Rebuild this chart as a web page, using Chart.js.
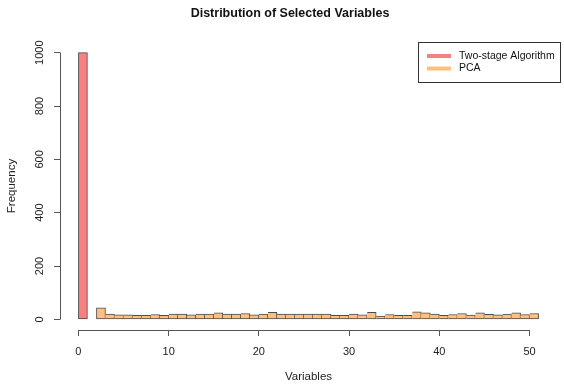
<!DOCTYPE html>
<html>
<head>
<meta charset="utf-8">
<title>Distribution of Selected Variables</title>
<script src="https://cdn.jsdelivr.net/npm/chart.js@4/dist/chart.umd.min.js"></script>
<style>
  html, body { margin: 0; padding: 0; background: #fff; }
  #wrap { width: 564px; height: 385px; position: relative; }
</style>
</head>
<body>
<div id="wrap"><canvas id="chart"></canvas></div>
<script>
// 数据：每个区间的左端点与频数
const twoStageBins = [0];
const twoStageFreq = [1000];
const pcaBins = [2, 3, 4, 5, 6, 7, 8, 9, 10, 11, 12, 13, 14, 15, 16, 17, 18, 19, 20, 21,
  22, 23, 24, 25, 26, 27, 28, 29, 30, 31, 32, 33, 34, 35, 36, 37, 38, 39, 40, 41,
  42, 43, 44, 45, 46, 47, 48, 49, 50];
const pcaFreq = [43, 20, 17, 17, 15, 15, 18, 15, 20, 20, 17, 20, 20, 24, 20, 20, 22, 17, 20, 26,
  20, 20, 20, 20, 20, 20, 15, 15, 20, 17, 26, 12, 18, 15, 15, 28, 24, 20, 15, 18,
  22, 16, 24, 19, 17, 20, 24, 18, 22];
const xTicks = [0, 10, 20, 30, 40, 50];
const yTicks = [0, 200, 400, 600, 800, 1000];
const seriesNames = ['Two-stage Algorithm', 'PCA'];

const RED = '#F98080';
const ORANGE = '#FFC07F';
const FONT = '"Liberation Sans", Arial, Helvetica, sans-serif';

// 区间 -> 柱子中心点
function toPoints(bins, freq) {
  return bins.map((b, i) => ({ x: b + 0.5, y: freq[i] }));
}

// R 风格：只画到首尾刻度的坐标轴线、标题和图例
const rStyle = {
  id: 'rStyle',
  afterDraw(chart) {
    const { ctx, chartArea, scales: { x, y } } = chart;
    ctx.save();
    ctx.strokeStyle = '#555';
    ctx.lineWidth = 1;
    ctx.beginPath();
    const by = Math.floor(chartArea.bottom) + 0.5;
    ctx.moveTo(Math.floor(x.getPixelForValue(xTicks[0])) + 0.5, by);
    ctx.lineTo(Math.floor(x.getPixelForValue(xTicks[xTicks.length - 1])) + 0.5, by);
    const lx = Math.floor(chartArea.left) + 0.5;
    ctx.moveTo(lx, Math.floor(y.getPixelForValue(yTicks[0])) + 0.5);
    ctx.lineTo(lx, Math.floor(y.getPixelForValue(yTicks[yTicks.length - 1])) + 0.5);
    ctx.stroke();

    // 标题
    ctx.fillStyle = '#111';
    ctx.font = 'bold 12.5px ' + FONT;
    ctx.textAlign = 'center';
    ctx.textBaseline = 'middle';
    ctx.fillText('Distribution of Selected Variables', 290, 14);

    // 图例
    const boxL = 418.5, boxT = Math.floor(chartArea.top) + 0.5;
    const boxR = 560.5, boxB = 82.5;
    ctx.strokeStyle = '#333';
    ctx.strokeRect(boxL, boxT, boxR - boxL, boxB - boxT);
    const colors = [RED, ORANGE];
    const rows = [56, 68.5];
    ctx.font = '10.5px ' + FONT;
    ctx.textAlign = 'left';
    seriesNames.forEach((name, i) => {
      ctx.strokeStyle = colors[i];
      ctx.lineWidth = 4;
      ctx.beginPath();
      ctx.moveTo(427, rows[i]);
      ctx.lineTo(451, rows[i]);
      ctx.stroke();
      ctx.fillStyle = '#111';
      ctx.fillText(name, 459, rows[i]);
    });
    ctx.restore();
  }
};

const barBorder = (c) => (c.dataIndex === 0 ? false : 'left');

new Chart(document.getElementById('chart'), {
  type: 'bar',
  data: {
    datasets: [
      {
        label: seriesNames[0],
        data: toPoints(twoStageBins, twoStageFreq),
        backgroundColor: RED,
        borderColor: '#4a4a4a',
        borderWidth: 1,
        borderSkipped: barBorder,
        barPercentage: 1,
        categoryPercentage: 1,
        grouped: false
      },
      {
        label: seriesNames[1],
        data: toPoints(pcaBins, pcaFreq),
        backgroundColor: ORANGE,
        borderColor: '#4a4a4a',
        borderWidth: 1,
        borderSkipped: barBorder,
        barPercentage: 1,
        categoryPercentage: 1,
        grouped: false
      }
    ]
  },
  options: {
    responsive: true,
    maintainAspectRatio: false,
    animation: false,
    layout: { padding: { top: 42, right: 7, left: 0, bottom: 0 } },
    plugins: {
      legend: { display: false },
      tooltip: { enabled: false },
      title: { display: false }
    },
    scales: {
      x: {
        type: 'linear',
        min: -2.04,
        max: 53.04,
        offset: false,
        afterBuildTicks: (s) => { s.ticks = xTicks.map(v => ({ value: v })); },
        afterFit: (s) => { s.height = 55; },
        border: { display: false },
        grid: { offset: false, drawOnChartArea: false, drawTicks: true, tickLength: 6, color: '#555' },
        ticks: { color: '#222', padding: 9, font: { family: FONT, size: 11 }, maxRotation: 0, callback: (v) => String(v) },
        title: { display: true, text: 'Variables', color: '#222', font: { family: FONT, size: 11.5 }, padding: { top: 0, bottom: 1 } }
      },
      y: {
        min: -40,
        max: 1040,
        afterBuildTicks: (s) => { s.ticks = yTicks.map(v => ({ value: v })); },
        afterFit: (s) => { s.width = 60; },
        border: { display: false },
        grid: { drawOnChartArea: false, drawTicks: true, tickLength: 6, color: '#555' },
        ticks: { color: '#222', padding: 2, crossAlign: 'center', minRotation: 90, maxRotation: 90, font: { family: FONT, size: 11 }, callback: (v) => String(v) },
        title: { display: true, text: 'Frequency', color: '#222', font: { family: FONT, size: 11.5 }, padding: { top: 5, bottom: 0 } }
      }
    }
  },
  plugins: [rStyle]
});
</script>
</body>
</html>
